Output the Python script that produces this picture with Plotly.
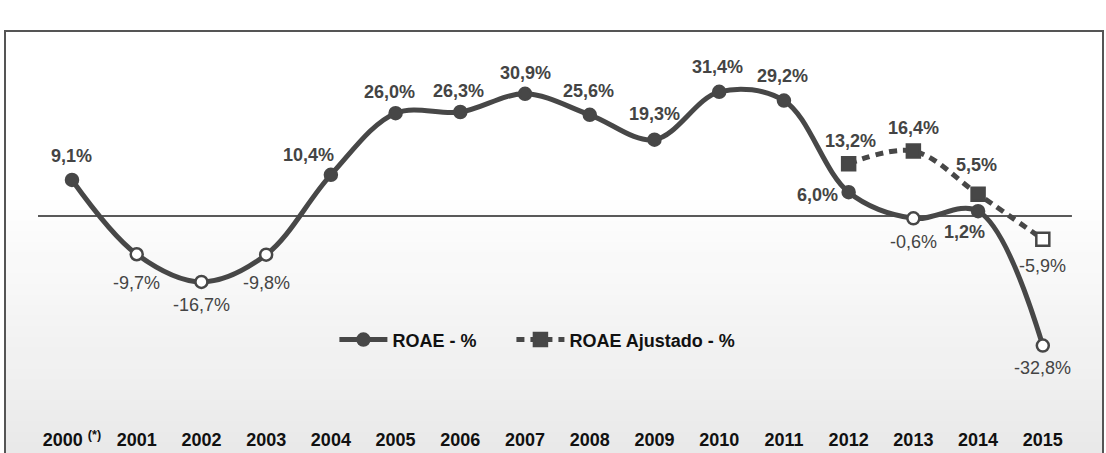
import plotly.graph_objects as go

years = ["2000 <sup>(*)</sup>", "2001", "2002", "2003", "2004", "2005", "2006", "2007",
         "2008", "2009", "2010", "2011", "2012", "2013", "2014", "2015"]
roae = [9.1, -9.7, -16.7, -9.8, 10.4, 26.0, 26.3, 30.9, 25.6, 19.3, 31.4, 29.2, 6.0, -0.6, 1.2, -32.8]
roae_adj_idx = [12, 13, 14, 15]
roae_adj = [13.2, 16.4, 5.5, -5.9]

# pixel offsets of each value label from its marker (dx, dy; dy up is positive)
roae_off = [(0, 24), (0, -29), (0, -23), (0, -28), (-22, 20), (-6, 21), (-2, 21), (0, 21),
            (-1, 24), (0, 26), (-2, 25), (-1, 25), (-31, -3), (0, -24), (-14, -21), (0, -22)]
adj_off = [(2, 23), (0, 23), (-2, 29), (0, -27)]

DARK = "#474747"
FONT = "Liberation Sans, Arial, sans-serif"


def label(v):
    s = f"{v:.1f}".replace(".", ",") + "%"
    return f"<b>{s}</b>" if v >= 0 else s


fig = go.Figure()

# Gradient background (white -> light gray) built from thin strips
n = 40
for k in range(n):
    y0 = k / n
    y1 = (k + 1) / n
    t = max(0.0, 1 - (y0 + y1) / 2 / 0.62)
    c = int(round(255 - t * (255 - 233)))
    fig.add_shape(type="rect", xref="paper", yref="paper", x0=0, x1=1, y0=y0, y1=y1 + 0.002,
                  fillcolor=f"rgb({c},{c},{c})", line=dict(width=0), layer="below")

# Zero line
fig.add_shape(type="line", xref="x", yref="y", x0=-0.525, x1=15.45, y0=0, y1=0,
              line=dict(color="#222222", width=1.5), layer="below")

fig.add_trace(go.Scatter(
    x=list(range(len(roae))), y=roae, name="<b>ROAE - %</b>" + "\u00a0" * 6,
    mode="lines+markers",
    line=dict(color=DARK, width=5, shape="spline", smoothing=1),
    marker=dict(size=12, symbol="circle",
                color=[DARK if v >= 0 else "white" for v in roae],
                line=dict(color=DARK, width=2.5)),
    cliponaxis=False,
))

fig.add_trace(go.Scatter(
    x=roae_adj_idx, y=roae_adj, name="<b>ROAE Ajustado - %</b>",
    mode="lines+markers",
    line=dict(color=DARK, width=5, shape="spline", smoothing=1, dash="8px,6px"),
    marker=dict(size=13, symbol="square",
                color=[DARK if v >= 0 else "white" for v in roae_adj],
                line=dict(color=DARK, width=2.5)),
    cliponaxis=False,
))

# Value labels
for xs, ys, offs in [(list(range(len(roae))), roae, roae_off), (roae_adj_idx, roae_adj, adj_off)]:
    for x, v, (dx, dy) in zip(xs, ys, offs):
        fig.add_annotation(x=x, y=v, text=label(v), showarrow=False,
                           xshift=dx, yshift=dy, xanchor="center", yanchor="middle",
                           font=dict(family=FONT, size=18, color="#444444"))

# Border
fig.add_shape(type="rect", xref="paper", yref="paper", x0=0, x1=1, y0=-0.02, y1=1,
              line=dict(color="#555555", width=2))

fig.update_xaxes(range=[-1.035, 15.93], tickvals=list(range(len(years))),
                 ticktext=[f"<b>{y}</b>" for y in years],
                 ticklabelposition="inside", ticks="", showgrid=False, zeroline=False,
                 showline=False, tickfont=dict(family=FONT, size=18, color="#111111"),
                 tickangle=0)
fig.update_yaxes(range=[-60.0, 46.8], visible=False, showgrid=False, zeroline=False)

fig.update_layout(
    width=1106, height=453,
    margin=dict(l=5, r=3, t=31, b=0),
    paper_bgcolor="white", plot_bgcolor="rgba(0,0,0,0)",
    showlegend=True,
    legend=dict(orientation="h", x=0.300, y=0.268, xanchor="left", yanchor="middle",
                bgcolor="rgba(0,0,0,0)", font=dict(family=FONT, size=18, color="#111111"),
                itemwidth=48),
    font=dict(family=FONT),
)

fig.write_html("out.html", config={"displayModeBar": False},
               post_script="document.body.style.margin='0';document.body.style.overflow='hidden';")
